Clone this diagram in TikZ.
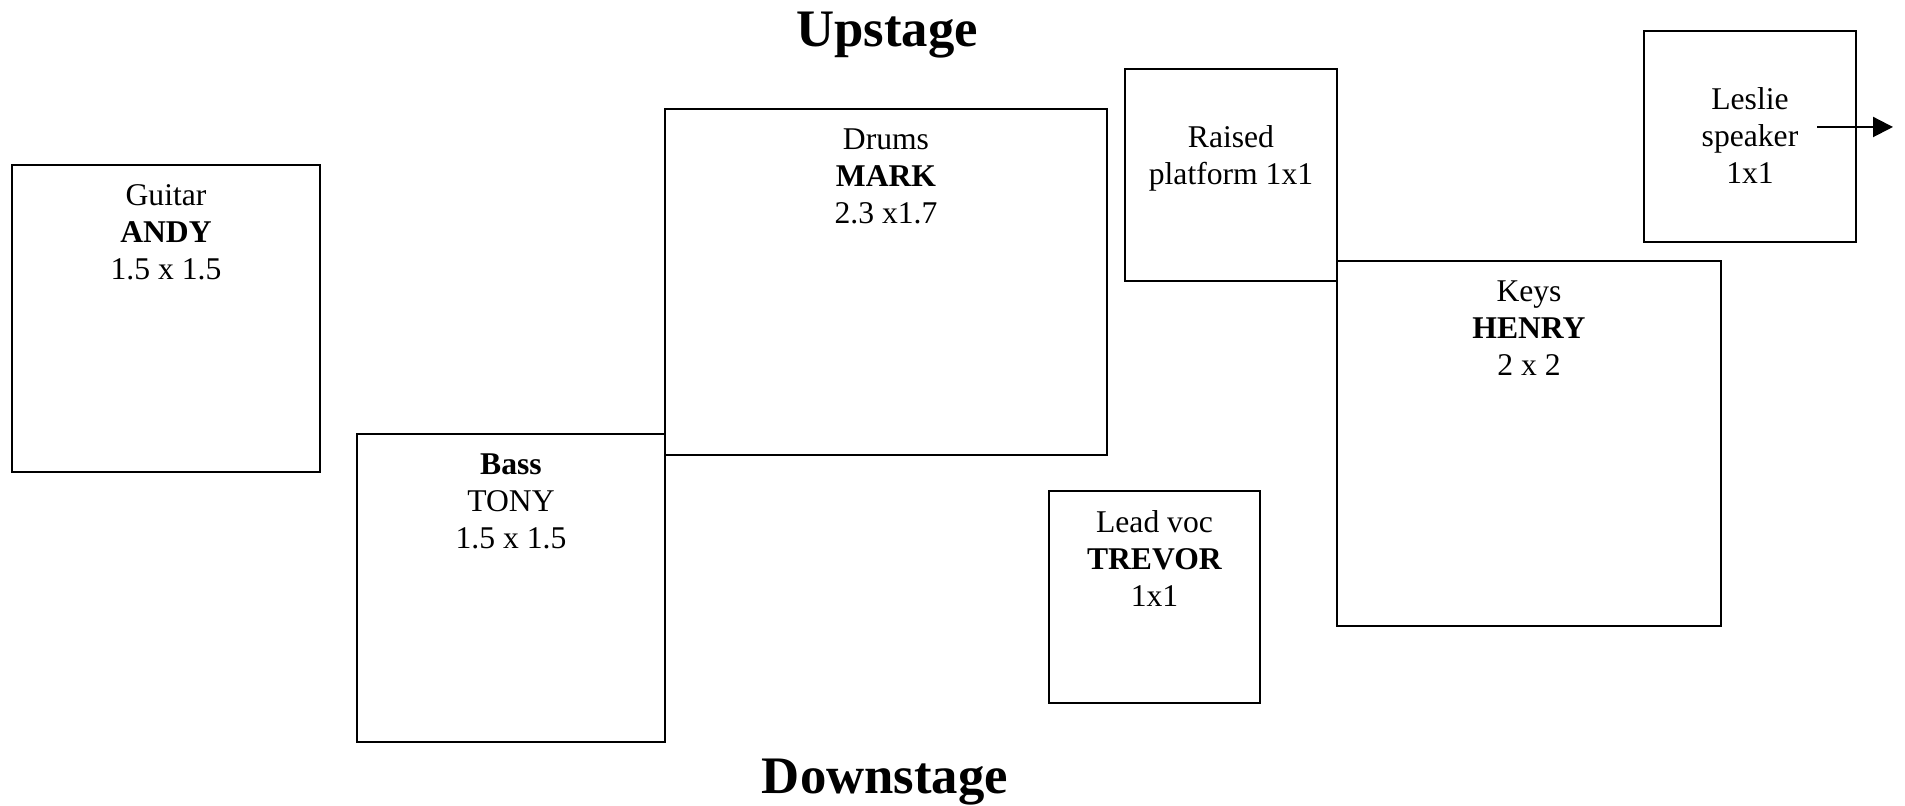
\documentclass[tikz,border=0pt]{standalone}
\usepackage{fontspec}
\setmainfont{Liberation Serif}
\usetikzlibrary{arrows.meta}

\begin{document}
\begin{tikzpicture}[x=0.1mm,y=-0.1mm,line width=0.6pt,
        stagebox/.style={draw,rectangle,inner sep=0pt,outer sep=0pt},
        boxtext/.style={anchor=north,align=center,inner sep=0pt,yshift=-1.9mm,font=\fontsize{9}{10.5}\selectfont},
        lowtext/.style={boxtext,yshift=-3.7mm},
        stagetitle/.style={anchor=base,font=\fontsize{15}{18}\selectfont\bfseries}]
    \useasboundingbox (0,0) rectangle (1905,806);

    % the stage edges
    \node   [stagetitle]    (up)    at (887,47)     {Upstage};
    \node   [stagetitle]    (down)  at (885,794)    {Downstage};

    % risers, one per player
    \node   [stagebox,minimum width=30.8mm,minimum height=30.7mm]   (guitar)    at (166,318.5)  {};
    \node   [stagebox,minimum width=30.8mm,minimum height=30.8mm]   (bass)      at (511,588)    {};
    \node   [stagebox,minimum width=44.2mm,minimum height=34.6mm]   (drums)     at (886,282)    {};
    \node   [stagebox,minimum width=21.2mm,minimum height=21.2mm]   (raised)    at (1231,175)   {};
    \node   [stagebox,minimum width=21.2mm,minimum height=21.1mm]   (leslie)    at (1750,136.5) {};
    \node   [stagebox,minimum width=38.4mm,minimum height=36.5mm]   (keys)      at (1529,443.5) {};
    \node   [stagebox,minimum width=21.1mm,minimum height=21.2mm]   (leadvoc)   at (1154.5,597) {};

    \node   [boxtext]   (guitartext)    at (guitar.north)   {Guitar\\\textbf{ANDY}\\1.5 x 1.5};
    \node   [boxtext]   (basstext)      at (bass.north)     {\textbf{Bass}\\TONY\\1.5 x 1.5};
    \node   [boxtext]   (drumstext)     at (drums.north)    {Drums\\\textbf{MARK}\\2.3 x1.7};
    \node   [lowtext]   (raisedtext)    at (raised.north)   {Raised\\platform 1x1};
    \node   [lowtext]   (leslietext)    at (leslie.north)   {Leslie\\speaker\\1x1};
    \node   [boxtext]   (keystext)      at (keys.north)     {Keys\\\textbf{HENRY}\\2 x 2};
    \node   [boxtext]   (leadvoctext)   at (leadvoc.north)  {Lead voc\\\textbf{TREVOR}\\1x1};

    % leslie throws to the right
    \coordinate (lesliefrom)    at (1817,127);
    \coordinate (leslieto)      at (1893,127);
    \draw   [-{Triangle[length=2mm,width=2mm]}] (lesliefrom) -- (leslieto);
\end{tikzpicture}
\end{document}
